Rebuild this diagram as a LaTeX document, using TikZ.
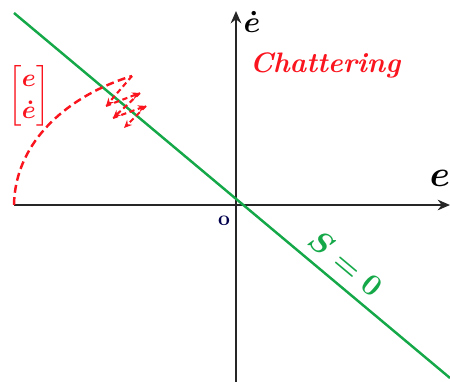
\documentclass[tikz,border=0pt]{standalone}
\usepackage{amsmath}
\usepackage{tikz}
\usetikzlibrary{arrows.meta, positioning}
\definecolor{surfgreen}{RGB}{20,168,72}
\definecolor{trajred}{RGB}{250,20,30}

\begin{document}
\begin{tikzpicture}[x=0.02cm, y=-0.02cm,
  axis/.style={line width=1.4pt, black!85, -{Stealth[length=7pt, width=6pt]}},
  surf/.style={line width=1.4pt, surfgreen},
  traj/.style={line width=1.4pt, trajred, dash pattern=on 4.5pt off 2.5pt},
  chat/.style={line width=1.2pt, trajred, dash pattern=on 3pt off 2pt, -{Stealth[length=4.5pt, width=4pt]}},
  lbl/.style={inner sep=0pt}
]
\useasboundingbox (0,0) rectangle (450,382);

% axes
\coordinate (xstart) at (14,205);
\coordinate (xend)   at (450,205);
\coordinate (ystart) at (236,382);
\coordinate (yend)   at (236,11);
\draw[axis] (xstart) -- (xend);
\draw[axis] (ystart) -- (yend);

% sliding surface
\coordinate (stop) at (14,13);
\coordinate (sbot) at (450,378);
\draw[surf] (stop) -- node[pos=0.73, sloped, above=2pt, text=surfgreen,
  font=\fontsize{17}{20}\selectfont\bfseries\boldmath] (slabel) {$S=0$} (sbot);

% labels
\node[lbl, font=\fontsize{19}{22}\selectfont\boldmath] (edot) at (252,22) {$\dot{e}$};
\node[lbl, font=\fontsize{20}{22}\selectfont\boldmath] (elab) at (440,178) {$e$};
\node[lbl, font=\large\bfseries, text=blue!30!black] (orig) at (224,221) {o};
\node[lbl, text=trajred, font=\fontsize{16}{19}\selectfont\bfseries\itshape] (chatlbl) at (325,65) {Chattering};
\node[lbl, text=trajred, font=\fontsize{15}{18}\selectfont\boldmath] (state) at (29,96)
  {$\begin{bmatrix} e\\ \dot{e}\end{bmatrix}$};

% trajectory
\coordinate (z0) at (132,76);
\coordinate (z1) at (106,106);
\coordinate (z2) at (140,93);
\coordinate (z3) at (113,118);
\coordinate (z4) at (146,106);
\coordinate (z5) at (124,128);
\draw[traj] (xstart) .. controls (15,140) and (70,95) .. (z0);
\foreach \a/\b in {z0/z1, z1/z2, z2/z3, z3/z4, z4/z5}
  \draw[chat] (\a) -- (\b);
\end{tikzpicture}
\end{document}
